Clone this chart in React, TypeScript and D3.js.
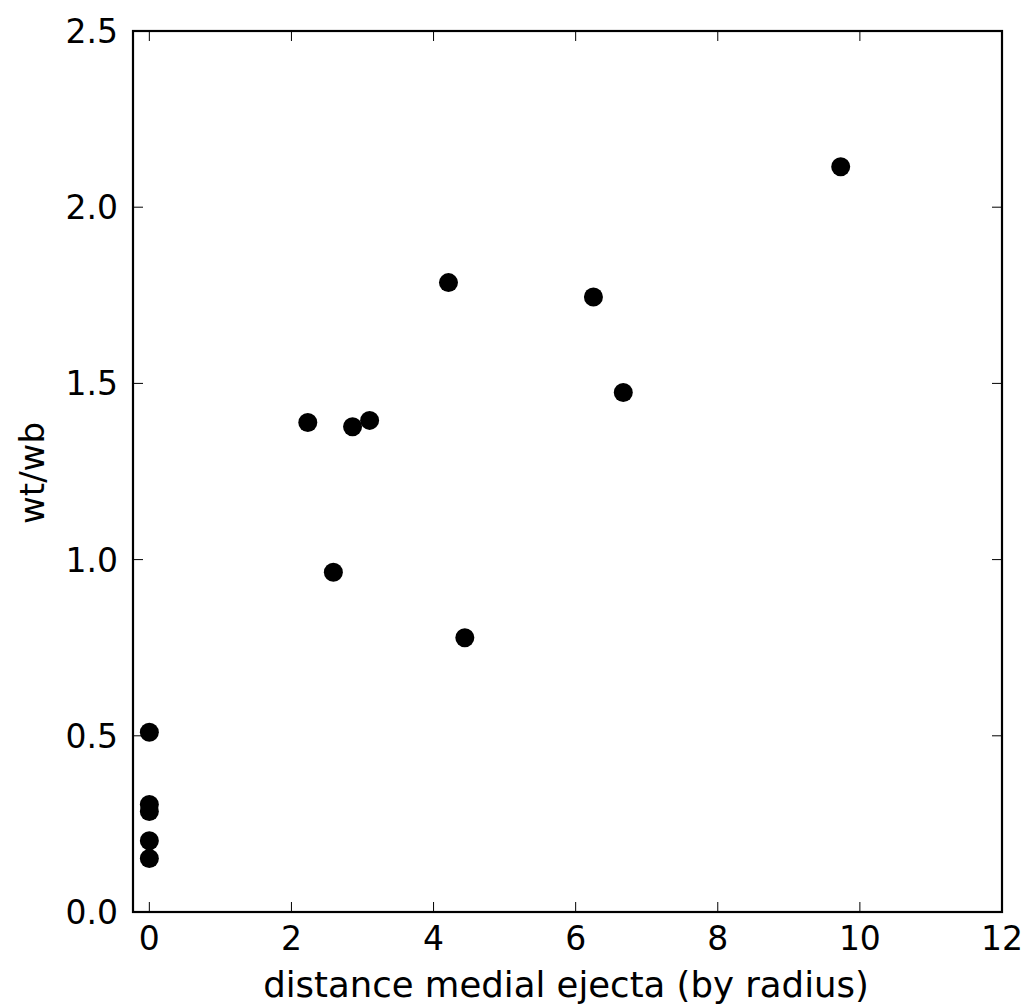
import React from "react";
import * as d3 from "d3";

const xValues = [9.73, 4.21, 6.25, 6.67, 2.23, 2.86, 3.10, 2.59, 4.44, 0, 0, 0, 0, 0];
const yValues = [2.115, 1.786, 1.745, 1.474, 1.389, 1.377, 1.395, 0.964, 0.778, 0.51, 0.305, 0.285, 0.202, 0.152];
const xTicks = [0, 2, 4, 6, 8, 10, 12];
const yTicks = [0, 0.5, 1.0, 1.5, 2.0, 2.5];
const xLabel = "distance medial ejecta (by radius)";
const yLabel = "wt/wb";

const W = 1029;
const H = 1005;
const left = 133;
const right = 1002;
const top = 31;
const bottom = 912;
const font = "'DejaVu Sans', sans-serif";

export default function App() {
  const x = d3.scaleLinear().domain([-0.23, 12]).range([left, right]);
  const y = d3.scaleLinear().domain([0, 2.5]).range([bottom, top]);
  const tickLen = 10;
  return (
    <svg width={W} height={H} style={{ position: "absolute", left: 0, top: 0, background: "#fff" }}>
      <rect x={0} y={0} width={W} height={H} fill="#fff" />
      {xTicks.map((t) => (
        <g key={"x" + t}>
          <line x1={x(t)} x2={x(t)} y1={bottom} y2={bottom - tickLen} stroke="#000" strokeWidth={1} />
          <line x1={x(t)} x2={x(t)} y1={top} y2={top + tickLen} stroke="#000" strokeWidth={1} />
          <text x={x(t)} y={950} textAnchor="middle" fontFamily={font} fontSize={33} fill="#000">
            {d3.format("d")(t)}
          </text>
        </g>
      ))}
      {yTicks.map((t) => (
        <g key={"y" + t}>
          <line x1={left} x2={left + tickLen} y1={y(t)} y2={y(t)} stroke="#000" strokeWidth={1} />
          <line x1={right} x2={right - tickLen} y1={y(t)} y2={y(t)} stroke="#000" strokeWidth={1} />
          <text x={left - 15} y={y(t) + 12} textAnchor="end" fontFamily={font} fontSize={33} fill="#000">
            {d3.format(".1f")(t)}
          </text>
        </g>
      ))}
      {xValues.map((v, i) => (
        <circle key={i} cx={x(v)} cy={y(yValues[i])} r={9.5} fill="#000" />
      ))}
      <rect x={left} y={top} width={right - left} height={bottom - top} fill="none" stroke="#000" strokeWidth={2.2} />
      <text x={566} y={997} textAnchor="middle" fontFamily={font} fontSize={35.5} fill="#000">
        {xLabel}
      </text>
      <text
        transform={`translate(${44},${473}) rotate(-90)`}
        textAnchor="middle"
        fontFamily={font}
        fontSize={34}
        fill="#000"
      >
        {yLabel}
      </text>
    </svg>
  );
}
